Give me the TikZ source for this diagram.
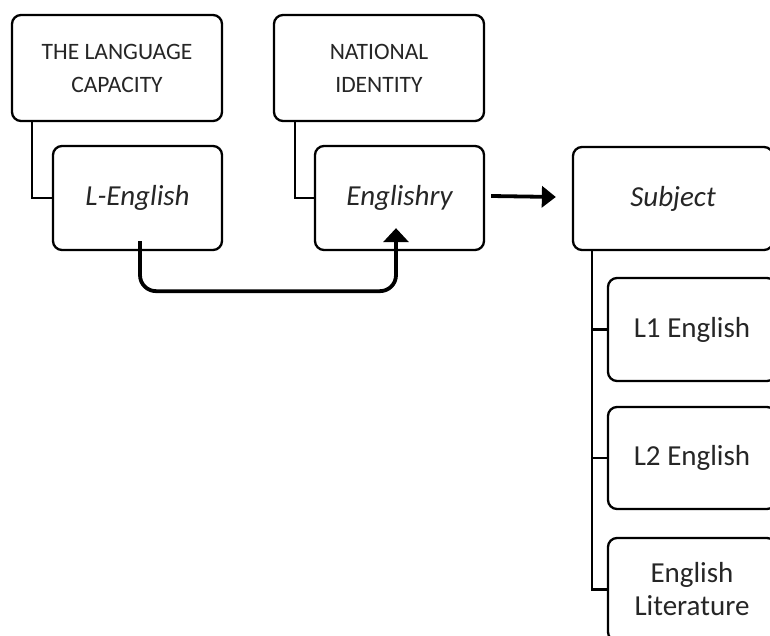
\documentclass[tikz,border=0pt]{standalone}
\usepackage{fontspec}
\setmainfont{Carlito}
\usetikzlibrary{arrows.meta}
\begin{document}
\begin{tikzpicture}[x=1pt,y=-1pt,
  box/.style={draw, line width=2.3pt, rounded corners=9pt, align=center, inner sep=0pt, text=black!85},
  capsbox/.style={box, font=\fontsize{23.5}{33}\selectfont},
  mainbox/.style={box, font=\fontsize{29}{33}\selectfont},
  link/.style={line width=2.3pt},
  bigarrow/.style={line width=3.8pt, -{Triangle[length=14pt,width=21pt]}},
  curvearrow/.style={line width=3.8pt, rounded corners=16pt, -{Triangle[length=14pt,width=25pt]}}
]
\clip (0,0) rectangle (770,636);
\fill[white] (0,0) rectangle (770,636);

\node[capsbox, minimum width=210pt, minimum height=106pt] (A) at (117,68) {THE LANGUAGE\\CAPACITY};
\node[mainbox, minimum width=169pt, minimum height=104pt] (B) at (137.5,198) {\itshape L-English};
\node[capsbox, minimum width=210pt, minimum height=106pt] (C) at (379,68) {NATIONAL\\IDENTITY};
\node[mainbox, minimum width=169pt, minimum height=104pt] (D) at (399.5,198) {\itshape Englishry};
\node[mainbox, minimum width=200pt, minimum height=103pt] (S) at (673,198.5) {\itshape Subject};
\node[mainbox, minimum width=168pt, minimum height=103pt] (L1) at (692,329.5) {L1 English};
\node[mainbox, minimum width=168pt, minimum height=102pt] (L2) at (692,458) {L2 English};
\node[mainbox, minimum width=168pt, minimum height=103pt] (LIT) at (692,589.5) {English\\Literature};

\draw[link] ([xshift=21pt]A.south west) |- (B.west);
\draw[link] ([xshift=22pt]C.south west) |- (D.west);
\draw[link] ([xshift=20pt]S.south west) |- (L1.west);
\draw[link] ([xshift=20pt]S.south west) |- (L2.west);
\draw[link] ([xshift=20pt]S.south west) |- (LIT.west);

\draw[bigarrow] ([xshift=6pt,yshift=2pt]D.east) -- ([xshift=-16pt,yshift=1.5pt]S.west);
\draw[curvearrow] ([xshift=2.5pt,yshift=10pt]B.south) -- ++(0,50) -| ([xshift=-3.5pt,yshift=23pt]D.south);
\end{tikzpicture}
\end{document}
